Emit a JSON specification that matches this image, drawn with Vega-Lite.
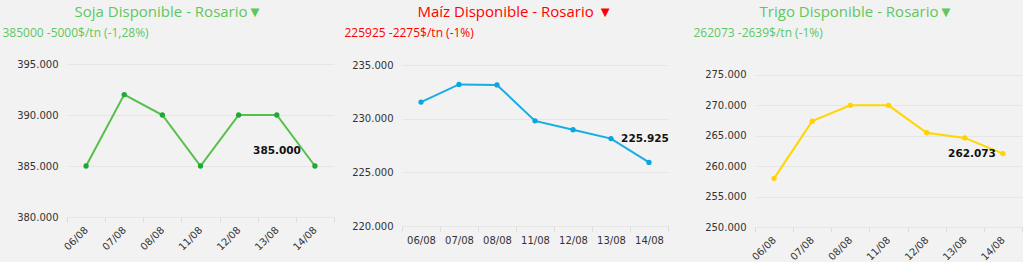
{
  "$schema": "https://vega.github.io/schema/vega-lite/v6.json",
  "padding": {"left": 2, "top": 5, "right": 0, "bottom": 0},
  "autosize": "pad",
  "bounds": "flush",
  "spacing": 688,
  "config": {
    "background": "#f2f2f2",
    "view": {"stroke": null},
    "locale": {"number": {"decimal": ",", "thousands": ".", "grouping": [3], "currency": ["$", ""]}},
    "axis": {"labelFont": "DejaVu Sans", "labelFontSize": 10, "labelColor": "#333333", "gridColor": "#e6e6e6", "domain": false, "ticks": false},
    "title": {"font": "Open Sans", "fontSize": 15, "fontWeight": "normal"}
  },
  "hconcat": [
    {
      "bounds": "flush",
      "spacing": 68,
      "hconcat": [
        {
          "width": 267, "height": 153,
          "title": {"text": "Soja Disponible - Rosario▼", "color": "#5ec85e", "anchor": "middle", "dx": -32, "offset": 6},
          "data": {"values": [
            {"fecha": "06/08", "precio": 385000},
            {"fecha": "07/08", "precio": 392000},
            {"fecha": "08/08", "precio": 390000},
            {"fecha": "11/08", "precio": 385000},
            {"fecha": "12/08", "precio": 390000},
            {"fecha": "13/08", "precio": 390000},
            {"fecha": "14/08", "precio": 385000}
          ]},
          "encoding": {
            "x": {"field": "fecha", "type": "nominal", "sort": null, "scale": {"type": "band", "paddingInner": 0, "paddingOuter": 0},
              "axis": {"title": null, "labelAngle": -45, "labelAlign": "right", "labelBaseline": "middle", "tickBand": "extent", "ticks": true, "tickSize": 5, "tickColor": "#dcdcdc", "domain": true, "domainColor": "#e6e6e6", "labelPadding": 6}},
            "y": {"field": "precio", "type": "quantitative", "scale": {"domain": [380000, 395000], "nice": false, "zero": false},
              "axis": {"values": [380000, 385000, 390000, 395000], "format": ",.0f", "labelPadding": 9, "title": "385000 -5000$/tn (-1,28%)", "titleAngle": 0, "titleX": -65, "titleY": -28, "titleAlign": "left", "titleBaseline": "alphabetic", "titleColor": "#5ec85e", "titleFont": "Open Sans", "titleFontSize": 12, "titleFontWeight": "normal"}}
          },
          "layer": [
            {"mark": {"type": "line", "color": "#55c04a", "strokeWidth": 2}},
            {"mark": {"type": "point", "filled": true, "color": "#1ea835", "size": 28, "opacity": 1}},
            {"transform": [{"filter": "datum.fecha == '14/08'"}],
             "mark": {"type": "text", "font": "DejaVu Sans", "fontWeight": "bold", "fontSize": 10.5, "align": "right", "baseline": "middle", "dx": -14, "dy": -15, "color": "#111111"},
             "encoding": {"text": {"field": "precio", "type": "quantitative", "format": ",.0f"}}}
          ]
        },
        {
          "width": 266, "height": 162,
          "title": {"text": "Maíz Disponible - Rosario ▼", "color": "#ff0000", "anchor": "middle", "dx": -20, "offset": 6},
          "data": {"values": [
            {"fecha": "06/08", "precio": 231550},
            {"fecha": "07/08", "precio": 233200},
            {"fecha": "08/08", "precio": 233150},
            {"fecha": "11/08", "precio": 229800},
            {"fecha": "12/08", "precio": 228970},
            {"fecha": "13/08", "precio": 228150},
            {"fecha": "14/08", "precio": 225925}
          ]},
          "encoding": {
            "x": {"field": "fecha", "type": "nominal", "sort": null, "scale": {"type": "band", "paddingInner": 0, "paddingOuter": 0},
              "axis": {"title": null, "labelAngle": 0, "tickBand": "extent", "ticks": true, "tickSize": 5, "tickColor": "#dcdcdc", "domain": true, "domainColor": "#e6e6e6", "labelPadding": 4}},
            "y": {"field": "precio", "type": "quantitative", "scale": {"domain": [220000, 235100], "nice": false, "zero": false},
              "axis": {"values": [220000, 225000, 230000, 235000], "format": ",.0f", "labelPadding": 9, "title": "225925 -2275$/tn (-1%)", "titleAngle": 0, "titleX": -58, "titleY": -28, "titleAlign": "left", "titleBaseline": "alphabetic", "titleColor": "#ff0000", "titleFont": "Open Sans", "titleFontSize": 12, "titleFontWeight": "normal"}}
          },
          "layer": [
            {"mark": {"type": "line", "color": "#14aee3", "strokeWidth": 2}},
            {"mark": {"type": "point", "filled": true, "color": "#0aa6de", "size": 28, "opacity": 1}},
            {"transform": [{"filter": "datum.fecha == '14/08'"}],
             "mark": {"type": "text", "font": "DejaVu Sans", "fontWeight": "bold", "fontSize": 10.5, "align": "center", "baseline": "middle", "dx": -4, "dy": -23, "color": "#111111"},
             "encoding": {"text": {"field": "precio", "type": "quantitative", "format": ",.0f"}}}
          ]
        }
      ]
    },
    {
      "width": 267, "height": 163,
      "title": {"text": "Trigo Disponible - Rosario▼", "color": "#5ec85e", "anchor": "middle", "dx": -32, "offset": 6},
      "data": {"values": [
        {"fecha": "06/08", "precio": 258000},
        {"fecha": "07/08", "precio": 267400},
        {"fecha": "08/08", "precio": 270000},
        {"fecha": "11/08", "precio": 270000},
        {"fecha": "12/08", "precio": 265500},
        {"fecha": "13/08", "precio": 264650},
        {"fecha": "14/08", "precio": 262073}
      ]},
      "encoding": {
        "x": {"field": "fecha", "type": "nominal", "sort": null, "scale": {"type": "band", "paddingInner": 0, "paddingOuter": 0},
          "axis": {"title": null, "labelAngle": -45, "labelAlign": "right", "labelBaseline": "middle", "tickBand": "extent", "ticks": true, "tickSize": 5, "tickColor": "#dcdcdc", "domain": true, "domainColor": "#e6e6e6", "labelPadding": 6}},
        "y": {"field": "precio", "type": "quantitative", "scale": {"domain": [250000, 276800], "nice": false, "zero": false},
          "axis": {"values": [250000, 255000, 260000, 265000, 270000, 275000], "format": ",.0f", "labelPadding": 9, "title": "262073 -2639$/tn (-1%)", "titleAngle": 0, "titleX": -62, "titleY": -28, "titleAlign": "left", "titleBaseline": "alphabetic", "titleColor": "#5ec85e", "titleFont": "Open Sans", "titleFontSize": 12, "titleFontWeight": "normal"}}
      },
      "layer": [
        {"mark": {"type": "line", "color": "#ffd600", "strokeWidth": 2}},
        {"mark": {"type": "point", "filled": true, "color": "#ffd300", "size": 28, "opacity": 1}},
        {"transform": [{"filter": "datum.fecha == '14/08'"}],
         "mark": {"type": "text", "font": "DejaVu Sans", "fontWeight": "bold", "fontSize": 10.5, "align": "right", "baseline": "middle", "dx": -7, "dy": 0, "color": "#111111"},
         "encoding": {"text": {"field": "precio", "type": "quantitative", "format": ",.0f"}}}
      ]
    }
  ]
}
